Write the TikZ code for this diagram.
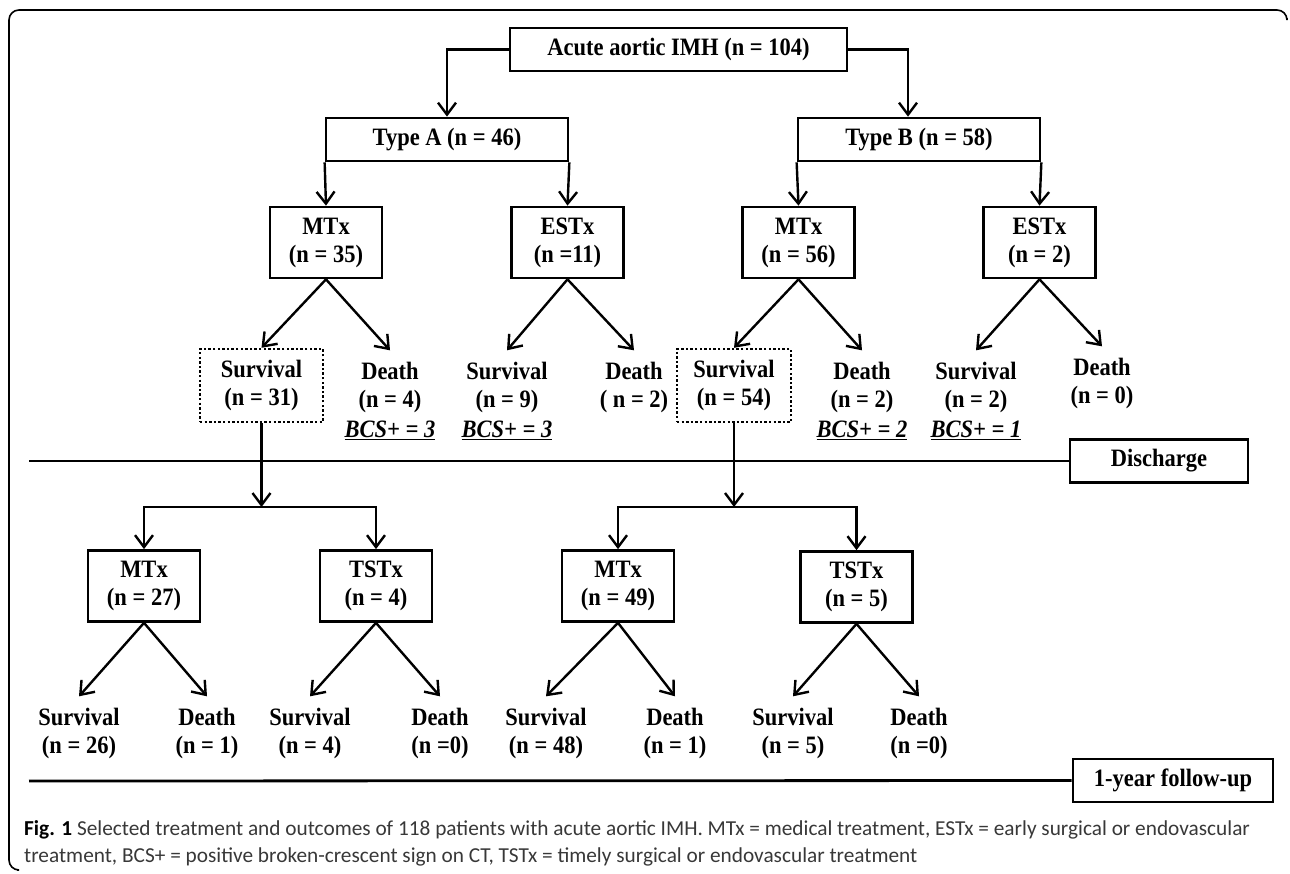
\documentclass[tikz,border=0pt]{standalone}
\usepackage{fontspec}
\setmainfont{Liberation Serif}[FakeStretch=0.9]
\newfontfamily\leyendafont{Carlito}
\usepackage{tikz}
\usetikzlibrary{arrows.meta, positioning}
\newcommand{\diagfont}{\fontsize{25}{28}\selectfont\bfseries}
\newcommand{\bcs}[1]{\underline{\textit{#1}}}
\tikzstyle{caja} = [draw, line width=2.7pt, minimum height=43pt, inner sep=0pt, font=\diagfont]
\tikzstyle{tratamiento} = [caja, minimum width=112pt, minimum height=71pt, align=center]
\tikzstyle{punteada} = [draw, line width=2.4pt, dash pattern=on 2.4pt off 2.2pt, minimum width=118pt, minimum height=73pt, inner sep=0pt, align=center, font=\diagfont]
\tikzstyle{hoja} = [minimum height=73pt, inner sep=0pt, align=center, font=\diagfont]
\tikzstyle{marca} = [inner sep=0pt, font=\diagfont]
\tikzstyle{flecha} = [line width=2.4pt, -{Straight Barb[length=12pt, width=18pt]}]
\tikzstyle{linea} = [line width=2.8pt]

\begin{document}
\begin{tikzpicture}[x=1pt, y=-1pt]
	\useasboundingbox (0,0) rectangle (1290,873);
	\draw[line width=1.6pt, rounded corners=10pt] (1287,18) -- (1287,10) -- (9,10) -- (9,870) -- (17,870);

	\node[caja, minimum width=337pt] (acute) at (678.5,49.5) {Acute aortic IMH (n = 104)};
	\node[caja, minimum width=242pt] (typeA) at (447,139.5) {Type A (n = 46)};
	\node[caja, minimum width=242pt] (typeB) at (919,139.5) {Type B (n = 58)};
	\draw[flecha] (acute.west) -| (typeA.north);
	\draw[flecha] (acute.east) -| ([xshift=-11pt]typeB.north);

	\node[tratamiento] (mtxA) at (326,242.5) {MTx\\(n = 35)};
	\node[tratamiento] (estxA) at (567.5,242.5) {ESTx\\(n =11)};
	\node[tratamiento] (mtxB) at (798.5,242.5) {MTx\\(n = 56)};
	\node[tratamiento] (estxB) at (1039.5,242.5) {ESTx\\(n = 2)};
	\draw[flecha] (typeA.south west) -- (mtxA.north);
	\draw[flecha] (typeA.south east) -- (estxA.north);
	\draw[flecha] (typeB.south west) -- (mtxB.north);
	\draw[flecha] (typeB.south east) -- (estxB.north);

	\node[punteada, minimum width=123pt] (survA) at (261.5,385.5) {Survival\\(n = 31)};
	\node[hoja] (deathA) at (390,387) {Death\\(n = 4)};
	\node[hoja] (survE) at (507,387) {Survival\\(n = 9)};
	\node[hoja] (deathE) at (634,387) {Death\\( n = 2)};
	\node[punteada, minimum width=114pt] (survB) at (734,385.5) {Survival\\(n = 54)};
	\node[hoja] (deathB) at (862,387) {Death\\(n = 2)};
	\node[hoja] (survF) at (976,387) {Survival\\(n = 2)};
	\node[hoja] (deathF) at (1102,383) {Death\\(n = 0)};
	\draw[flecha] (mtxA.south) -- (survA.north);
	\draw[flecha] (mtxA.south) -- (deathA.north);
	\draw[flecha] (estxA.south) -- (survE.north);
	\draw[flecha] (estxA.south) -- (deathE.north);
	\draw[flecha] (mtxB.south) -- (survB.north);
	\draw[flecha] (mtxB.south) -- (deathB.north);
	\draw[flecha] (estxB.south) -- (survF.north);
	\draw[flecha] (estxB.south) -- (deathF.north);

	\node[marca] (bcsA) at (390,430) {\bcs{BCS+ = 3}};
	\node[marca] (bcsE) at (507,430) {\bcs{BCS+ = 3}};
	\node[marca] (bcsB) at (862,430) {\bcs{BCS+ = 2}};
	\node[marca] (bcsF) at (976,430) {\bcs{BCS+ = 1}};

	\node[caja, minimum width=178pt] (discharge) at (1159,461) {Discharge};
	\coordinate (altaIzq) at (29,461);
	\draw[linea] (altaIzq) -- (discharge.west);

	\node[tratamiento] (mtxC) at (144,586) {MTx\\(n = 27)};
	\node[tratamiento] (tstxA) at (376,586) {TSTx\\(n = 4)};
	\node[tratamiento] (mtxD) at (618,586) {MTx\\(n = 49)};
	\node[tratamiento] (tstxB) at (856.5,587) {TSTx\\(n = 5)};
	\coordinate (cruceA) at (261.5,507);
	\coordinate (cruceB) at (734,507);
	\draw[flecha] (survA.south) -- (cruceA);
	\draw[flecha] (survB.south) -- (cruceB);
	\draw[flecha] (cruceA) -| (mtxC.north);
	\draw[flecha] (cruceA) -| (tstxA.north);
	\draw[flecha] (cruceB) -| (mtxD.north);
	\draw[flecha] (cruceB) -| (tstxB.north);

	\node[hoja] (survC) at (79,733) {Survival\\(n = 26)};
	\node[hoja] (deathC) at (207,733) {Death\\(n = 1)};
	\node[hoja] (survG) at (310,733) {Survival\\(n = 4)};
	\node[hoja] (deathG) at (440,733) {Death\\(n =0)};
	\node[hoja] (survD) at (546,733) {Survival\\(n = 48)};
	\node[hoja] (deathD) at (675,733) {Death\\(n = 1)};
	\node[hoja] (survH) at (793,733) {Survival\\(n = 5)};
	\node[hoja] (deathH) at (919,733) {Death\\(n =0)};
	\draw[flecha] (mtxC.south) -- (survC.north);
	\draw[flecha] (mtxC.south) -- (deathC.north);
	\draw[flecha] (tstxA.south) -- (survG.north);
	\draw[flecha] (tstxA.south) -- (deathG.north);
	\draw[flecha] (mtxD.south) -- (survD.north);
	\draw[flecha] (mtxD.south) -- (deathD.north);
	\draw[flecha] (tstxB.south) -- (survH.north);
	\draw[flecha] (tstxB.south) -- (deathH.north);

	\node[caja, minimum width=200pt] (followup) at (1173,780.5) {1-year follow-up};
	\coordinate (anioIzq) at (29,781);
	\draw[linea] (anioIzq) -- (followup.west);

	\node[anchor=north west, inner sep=0pt, align=left, text=black!78, font=\leyendafont\fontsize{21.3}{27}\selectfont] (leyenda) at (24,820) {\textcolor{black}{\textbf{Fig. 1}} Selected treatment and outcomes of 118 patients with acute aortic IMH. MTx = medical treatment, ESTx = early surgical or endovascular\\treatment, BCS+ = positive broken-crescent sign on CT, TSTx = timely surgical or endovascular treatment};
\end{tikzpicture}
\end{document}
